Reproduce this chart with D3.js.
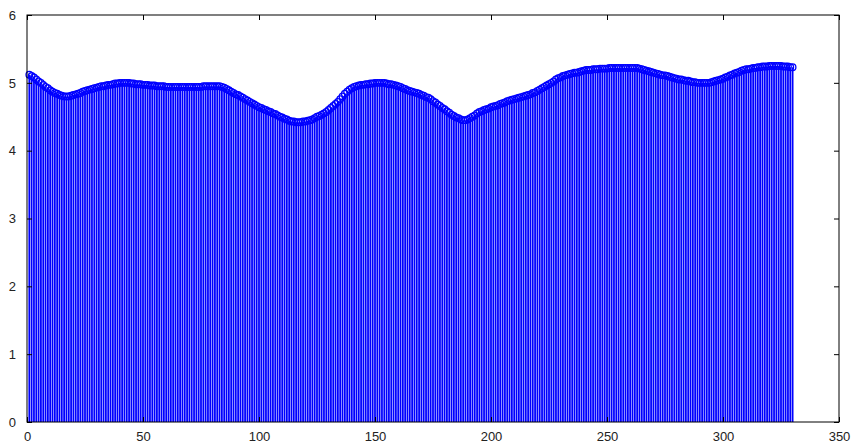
<!DOCTYPE html>
<html>
<head>
<meta charset="utf-8">
<script src="https://cdn.jsdelivr.net/npm/d3@7"></script>
<style>
  body { margin: 0; background: #fff; }
  svg text { font-family: Arial, "Liberation Sans", sans-serif; font-size: 13px; fill: #222; }
</style>
</head>
<body>
<div id="grafico"></div>
<script>
'use strict'
/* Datos del stem: x = 1..330 */
var valores = [
5.12, 5.10, 5.08, 5.05, 5.02, 5.00, 4.97, 4.94, 4.92, 4.89,
4.87, 4.85, 4.84, 4.82, 4.81, 4.80, 4.80, 4.80, 4.81, 4.82,
4.83, 4.84, 4.85, 4.87, 4.88, 4.89, 4.90, 4.91, 4.92, 4.93,
4.94, 4.95, 4.95, 4.96, 4.97, 4.97, 4.98, 4.99, 4.99, 5.00,
5.00, 5.00, 5.00, 5.00, 4.99, 4.99, 4.98, 4.98, 4.98, 4.97,
4.97, 4.97, 4.96, 4.96, 4.96, 4.95, 4.95, 4.95, 4.95, 4.94,
4.94, 4.94, 4.94, 4.94, 4.94, 4.94, 4.94, 4.94, 4.94, 4.94,
4.94, 4.94, 4.94, 4.94, 4.94, 4.95, 4.95, 4.95, 4.95, 4.95,
4.95, 4.95, 4.95, 4.94, 4.93, 4.91, 4.89, 4.87, 4.85, 4.83,
4.82, 4.80, 4.78, 4.76, 4.74, 4.72, 4.70, 4.68, 4.66, 4.64,
4.63, 4.61, 4.60, 4.58, 4.57, 4.55, 4.54, 4.52, 4.50, 4.49,
4.47, 4.46, 4.44, 4.43, 4.43, 4.42, 4.42, 4.42, 4.43, 4.43,
4.44, 4.45, 4.46, 4.48, 4.50, 4.51, 4.53, 4.55, 4.57, 4.60,
4.63, 4.66, 4.69, 4.72, 4.76, 4.80, 4.84, 4.87, 4.90, 4.92,
4.94, 4.95, 4.96, 4.97, 4.97, 4.98, 4.98, 4.99, 4.99, 5.00,
5.00, 5.00, 5.00, 5.00, 4.99, 4.98, 4.98, 4.97, 4.96, 4.95,
4.94, 4.92, 4.91, 4.89, 4.88, 4.87, 4.86, 4.85, 4.84, 4.82,
4.81, 4.79, 4.78, 4.76, 4.73, 4.71, 4.68, 4.66, 4.63, 4.61,
4.58, 4.56, 4.53, 4.51, 4.49, 4.48, 4.46, 4.45, 4.45, 4.46,
4.48, 4.50, 4.52, 4.55, 4.57, 4.58, 4.60, 4.61, 4.62, 4.64,
4.65, 4.66, 4.67, 4.69, 4.70, 4.71, 4.73, 4.74, 4.75, 4.76,
4.77, 4.78, 4.79, 4.80, 4.81, 4.82, 4.83, 4.85, 4.86, 4.88,
4.90, 4.92, 4.94, 4.96, 4.98, 5.00, 5.02, 5.05, 5.07, 5.08,
5.10, 5.11, 5.12, 5.13, 5.14, 5.15, 5.15, 5.16, 5.17, 5.18,
5.19, 5.19, 5.19, 5.20, 5.20, 5.20, 5.21, 5.21, 5.21, 5.21,
5.22, 5.22, 5.22, 5.22, 5.22, 5.22, 5.22, 5.22, 5.22, 5.22,
5.22, 5.22, 5.22, 5.21, 5.20, 5.19, 5.18, 5.17, 5.16, 5.15,
5.14, 5.13, 5.12, 5.11, 5.11, 5.10, 5.09, 5.08, 5.07, 5.06,
5.05, 5.05, 5.04, 5.03, 5.03, 5.02, 5.01, 5.01, 5.00, 5.00,
5.00, 5.00, 5.00, 5.00, 5.01, 5.02, 5.03, 5.04, 5.05, 5.06,
5.08, 5.09, 5.11, 5.12, 5.14, 5.15, 5.16, 5.18, 5.19, 5.20,
5.20, 5.21, 5.22, 5.22, 5.23, 5.23, 5.24, 5.24, 5.24, 5.25,
5.25, 5.25, 5.25, 5.25, 5.25, 5.24, 5.24, 5.24, 5.23, 5.23
];
var puntos = valores.map((v, i) => [i + 1, v]);

/* Ticks */
var xTicks = [0, 50, 100, 150, 200, 250, 300, 350];
var yTicks = [0, 1, 2, 3, 4, 5, 6];

var w = 852;
var h = 443;
var margen = {left: 27, right: 13, top: 15, bottom: 21};

function dibujo(){
	var svg = d3.select('#grafico')
				.append('svg')
				.attr('width', w)
				.attr('height', h);

	var xScale = d3.scaleLinear()
				   .domain([0, 350])
				   .range([margen.left, w - margen.right]);
	var yScale = d3.scaleLinear()
				   .domain([0, 6])
				   .range([h - margen.bottom, margen.top]);

	// Tallos
	svg.append('g').selectAll('line')
	   .data(puntos)
	   .enter()
	   .append('line')
	   .attr('x1', (d)=> xScale(d[0]))
	   .attr('x2', (d)=> xScale(d[0]))
	   .attr('y1', yScale(0))
	   .attr('y2', (d)=> yScale(d[1]))
	   .attr('stroke', '#0000ff')
	   .attr('stroke-width', 1.8);

	// Marcadores
	svg.append('g').selectAll('circle')
	   .data(puntos)
	   .enter()
	   .append('circle')
	   .attr('cx', (d)=> xScale(d[0]))
	   .attr('cy', (d)=> yScale(d[1]))
	   .attr('r', 3.3)
	   .attr('fill', 'none')
	   .attr('stroke', '#0000ff')
	   .attr('stroke-width', 1.3);

	// Ejes con ticks hacia dentro
	var x0 = xScale.range()[0], x1 = xScale.range()[1];
	var y0 = yScale.range()[0], y1 = yScale.range()[1];

	svg.append('g')
	   .attr('transform', 'translate(0,' + y0 + ')')
	   .call(d3.axisBottom(xScale).tickValues(xTicks).tickSizeInner(-5).tickSizeOuter(0).tickPadding(10).tickFormat(d3.format('d')))
	   .call(g => g.select('.domain').remove());
	svg.append('g')
	   .attr('transform', 'translate(0,' + y1 + ')')
	   .call(d3.axisTop(xScale).tickValues(xTicks).tickSizeInner(-5).tickSizeOuter(0).tickFormat(''))
	   .call(g => g.select('.domain').remove());
	svg.append('g')
	   .attr('transform', 'translate(' + x0 + ',0)')
	   .call(d3.axisLeft(yScale).tickValues(yTicks).tickSizeInner(-5).tickSizeOuter(0).tickPadding(11).tickFormat(d3.format('d')))
	   .call(g => g.select('.domain').remove());
	svg.append('g')
	   .attr('transform', 'translate(' + x1 + ',0)')
	   .call(d3.axisRight(yScale).tickValues(yTicks).tickSizeInner(-5).tickSizeOuter(0).tickFormat(''))
	   .call(g => g.select('.domain').remove());

	svg.selectAll('.tick line').attr('stroke', '#000');
	svg.selectAll('.tick text').attr('font-size', 13).attr('font-family', 'Arial, "Liberation Sans", sans-serif').attr('fill', '#222');

	// Caja
	svg.append('rect')
	   .attr('x', x0)
	   .attr('y', y1)
	   .attr('width', x1 - x0)
	   .attr('height', y0 - y1)
	   .attr('fill', 'none')
	   .attr('stroke', '#000')
	   .attr('stroke-width', 1);
}

dibujo();
</script>
</body>
</html>
